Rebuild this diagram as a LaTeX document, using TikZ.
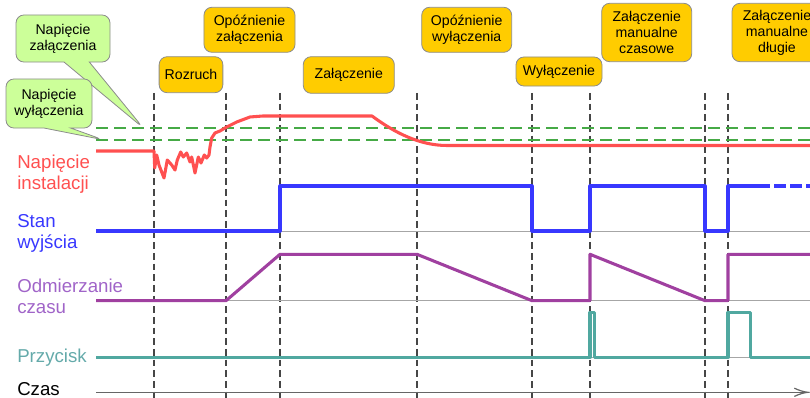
\documentclass[tikz,border=0pt]{standalone}
\usepackage{fontspec}
\setmainfont{Liberation Sans}
\usepackage{xcolor}
\usetikzlibrary{shapes.callouts}

\definecolor{zolty}{RGB}{255,204,0}
\definecolor{jasnozielony}{RGB}{204,255,153}
\definecolor{czerwony}{RGB}{255,80,80}
\definecolor{niebieski}{RGB}{56,56,255}
\definecolor{fiolet}{RGB}{160,64,160}
\definecolor{fioletopis}{RGB}{160,100,200}
\definecolor{morski}{RGB}{80,168,160}
\definecolor{morskiopis}{RGB}{100,170,170}
\definecolor{zielonyprog}{RGB}{70,170,70}
\definecolor{siatka}{RGB}{70,70,70}

\begin{document}
\begin{tikzpicture}[x=0.75pt,y=0.75pt,yscale=-1,xscale=1,
	etap/.style={draw=gray!90, fill=zolty, rounded corners=6pt, line width=0.6pt, inner sep=0pt, align=center, font=\fontsize{10.6}{12}\selectfont},
	dymek/.style={rectangle callout, draw=gray!90, fill=jasnozielony, rounded corners=6pt, line width=0.6pt, inner sep=0pt, align=center, font=\fontsize{10.6}{12}\selectfont},
	opis/.style={anchor=west, inner sep=0pt, align=left, font=\fontsize{14}{15.8}\selectfont},
	znacznik/.style={draw=siatka, line width=1pt, dash pattern=on 5pt off 3pt},
	poziom/.style={draw=zielonyprog, line width=1.4pt, dash pattern=on 9pt off 4.5pt},
	baza/.style={draw=gray!70, line width=0.7pt},
	sygnal/.style={line width=2.3pt, line join=round}
	]
	\clip (0,0) rectangle (810,398);
	
	%Straight Lines: chwile czasu
	\foreach \chwila in {154,226,280,417,532,590,705,728}
	\draw [znacznik] (\chwila,93) -- (\chwila,398) ;
	%Straight Lines: progi napiecia
	\draw [poziom] (96,127.7) -- (810,127.7) ;
	\draw [poziom] (96,139.7) -- (810,139.7) ;
	%Straight Lines: linie bazowe
	\draw [baza] (96,231) -- (810,231) ;
	\draw [baza] (96,300.7) -- (810,300.7) ;
	\draw [baza] (96,357.3) -- (810,357.3) ;
	
	%Shape: napiecie instalacji
	\draw [sygnal, draw=czerwony] (96,151) -- (154,151) -- (154.7,168) -- (156.7,155) -- (159,165) -- (164,178) -- (167.3,160) -- (171.7,165) -- (175,170) -- (177.3,160) -- (180.7,152) -- (183.3,157) -- (186.7,153) -- (190,162) -- (191.7,157) -- (195,173) -- (198.3,157) -- (201,163) -- (204.3,155) -- (206.7,158) -- (209,155) -- (210,147) -- (211.7,138) -- (215,133) -- (220,131) -- (226.7,127) -- (236.7,122) -- (250,117) -- (263,116) -- (372,116) .. controls (395,133) and (420,145.5) .. (447,145.5) -- (810,145.5) ;
	%Shape: stan wyjscia
	\draw [sygnal, draw=niebieski] (96,231) -- (280,231) -- (280,186) -- (532,186) -- (532,231) -- (590,231) -- (590,186) -- (705,186) -- (705,231) -- (728,231) -- (728,186) -- (758,186) ;
	\draw [sygnal, draw=niebieski, dash pattern=on 9pt off 3pt] (758,186) -- (810,186) ;
	%Shape: odmierzanie czasu
	\draw [sygnal, draw=fiolet] (96,300.7) -- (226,300.7) -- (280,254.3) -- (417,254.3) -- (532,300.7) -- (590,300.7) -- (590,254.3) -- (705,300.7) -- (728,300.7) -- (728,254.3) -- (810,254.3) ;
	%Shape: przycisk
	\draw [sygnal, draw=morski] (96,357.3) -- (590,357.3) -- (590,312.3) -- (594.5,312.3) -- (594.5,357.3) -- (728,357.3) -- (728,312.3) -- (750.7,312.3) -- (750.7,357.3) -- (810,357.3) ;
	
	%Straight Lines: os czasu
	\draw [draw=gray!80!black, line width=0.9pt] (96,392.3) -- (805,392.3) ;
	\draw [shift={(808,392.3)}, rotate = 180, scale=1.25] [draw=gray!80!black, line width=0.9pt] (10.93,-3.29) .. controls (6.95,-1.4) and (3.31,-0.3) .. (0,0) .. controls (3.31,0.3) and (6.95,1.4) .. (10.93,3.29) ;
	
	% Callouts
	\coordinate (progzal) at (143,127.7) ;
	\coordinate (progwyl) at (103,139.7) ;
	\node [dymek, minimum width=70.5pt, minimum height=35.3pt, callout absolute pointer=(progzal), callout pointer width=19pt] (napzal) at (63,38.5) {Napięcie\\załączenia};
	\node [dymek, minimum width=64.5pt, minimum height=36.8pt, callout absolute pointer=(progwyl), callout pointer width=20pt] (napwyl) at (49,103.5) {Napięcie\\wyłączenia};
	
	% Text Node: etapy
	\node [etap, minimum width=47.8pt, minimum height=27pt] (rozruch) at (191,74.7) {Rozruch};
	\node [etap, minimum width=68.3pt, minimum height=33.8pt] (opozzal) at (249.5,29.8) {Opóźnienie\\załączenia};
	\node [etap, minimum width=68.3pt, minimum height=27.5pt] (zalacz) at (348.8,75) {Załączenie};
	\node [etap, minimum width=67.5pt, minimum height=33.8pt] (opozwyl) at (466.7,29.8) {Opóźnienie\\wyłączenia};
	\node [etap, minimum width=64.5pt, minimum height=21.8pt] (wylacz) at (559,71.5) {Wyłączenie};
	\node [etap, minimum width=67.5pt, minimum height=43.8pt] (mancz) at (646.7,32.5) {Załączenie\\manualne\\czasowe};
	\node [etap, minimum width=67.5pt, minimum height=43.8pt] (mandl) at (777,32.5) {Załączenie\\manualne\\długie};
	
	% Text Node: opisy sygnalow
	\node [opis, text=czerwony] (opnap) at (17,174.5) {Napięcie\\instalacji};
	\node [opis, text=niebieski] (opstan) at (17,233) {Stan\\wyjścia};
	\node [opis, text=fioletopis] (opodm) at (17,296.5) {Odmierzanie\\czasu};
	\node [opis, text=morskiopis] (opprz) at (17,357.3) {Przycisk};
	\node [opis] (opczas) at (17,389) {Czas};
\end{tikzpicture}
\end{document}
